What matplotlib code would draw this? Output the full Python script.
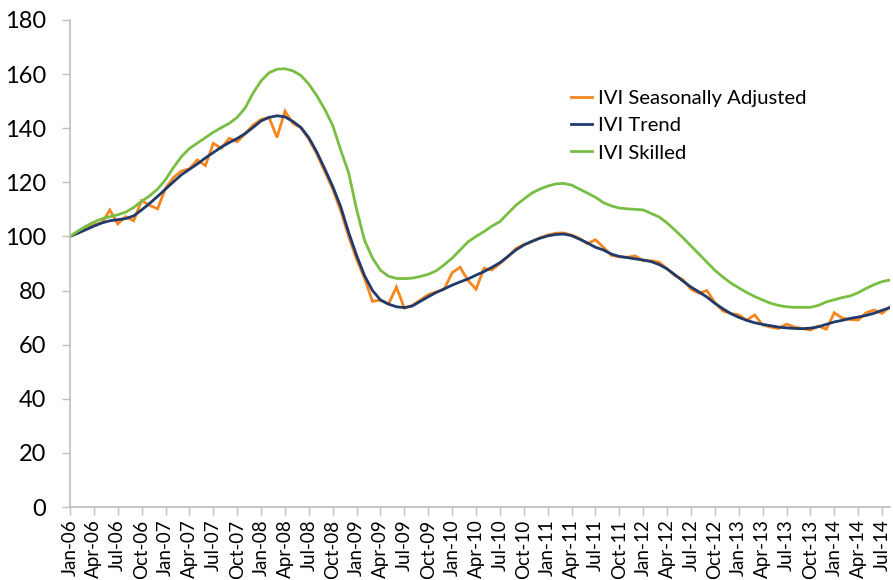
import matplotlib
matplotlib.use("Agg")
import matplotlib.pyplot as plt
import numpy as np

months = ["Jan", "Feb", "Mar", "Apr", "May", "Jun", "Jul", "Aug", "Sep", "Oct", "Nov", "Dec"]
dates = [f"{months[i % 12]}-{6 + i // 12:02d}" for i in range(104)]

seasonally_adjusted = [
    100.0, 101.5, 103.0, 104.3, 105.0, 109.8, 104.6, 107.3, 105.8, 113.3,
    111.5, 110.2, 117.8, 121.8, 124.2, 125.0, 128.3, 126.2, 134.4, 132.6,
    136.3, 135.0, 138.0, 141.2, 143.2, 144.0, 136.6, 146.3, 141.8, 140.2,
    136.0, 130.5, 124.0, 117.5, 109.5, 100.0, 91.5, 84.5, 76.0, 76.5,
    75.0, 81.3, 73.5, 74.5, 76.5, 78.5, 79.5, 80.5, 86.6, 88.6,
    83.7, 80.5, 88.2, 87.6, 90.0, 92.5, 95.5, 97.0, 98.0, 99.5,
    100.5, 101.2, 101.3, 100.5, 99.3, 97.3, 98.8, 96.0, 93.0, 92.5,
    92.3, 92.8, 91.0, 91.0, 90.5, 88.0, 85.5, 84.0, 80.5, 79.0,
    80.0, 75.5, 72.5, 71.5, 71.0, 69.0, 71.0, 67.3, 66.5, 66.0,
    67.6, 66.5, 66.0, 65.4, 66.9, 65.7, 71.8, 69.8, 69.3, 69.1,
    71.8, 72.8, 71.6, 74.0,
]

trend = [
    100.0, 101.2, 102.5, 103.8, 105.0, 105.8, 106.2, 106.6, 107.6, 109.8,
    112.2, 114.8, 117.5, 120.2, 122.8, 124.8, 126.8, 129.0, 131.0, 133.0,
    134.7, 136.2, 138.0, 140.3, 142.7, 144.0, 144.6, 144.2, 142.5, 140.3,
    136.5, 131.2, 125.0, 118.5, 111.0, 101.5, 93.0, 85.5, 80.0, 76.5,
    75.0, 74.0, 73.7, 74.3, 76.0, 77.7, 79.3, 80.6, 82.0, 83.2,
    84.3, 85.7, 87.0, 88.6, 90.3, 92.6, 95.0, 96.8, 98.2, 99.3,
    100.2, 100.7, 100.9, 100.3, 99.0, 97.6, 96.0, 95.0, 93.5, 92.6,
    92.2, 91.7, 91.3, 90.7, 89.6, 88.0, 85.8, 83.5, 81.3, 79.5,
    77.6, 75.3, 73.3, 71.5, 70.1, 69.0, 68.1, 67.5, 67.0, 66.5,
    66.2, 66.0, 65.9, 66.1, 66.6, 67.5, 68.4, 69.0, 69.7, 70.2,
    70.8, 71.6, 72.7, 73.7,
]

skilled = [
    100.0, 102.0, 103.8, 105.3, 106.5, 107.3, 108.0, 109.0, 110.7, 113.0,
    115.0, 117.5, 121.0, 125.5, 129.5, 132.5, 134.5, 136.5, 138.5, 140.2,
    141.8, 144.0, 147.5, 153.0, 157.5, 160.5, 161.8, 162.0, 161.2, 159.5,
    156.3, 152.0, 147.0, 141.0, 132.0, 123.5, 110.0, 98.5, 92.0, 87.5,
    85.3, 84.5, 84.4, 84.6, 85.2, 86.0, 87.3, 89.5, 92.0, 95.0,
    98.0, 100.0, 101.8, 103.8, 105.5, 108.5, 111.5, 113.8, 116.0, 117.5,
    118.6, 119.4, 119.6, 119.0, 117.5, 116.0, 114.5, 112.5, 111.3, 110.5,
    110.2, 110.0, 109.8, 108.5, 107.2, 105.0, 102.3, 99.5, 96.5, 93.5,
    90.5, 87.5, 85.0, 82.8, 81.0, 79.3, 77.8, 76.5, 75.3, 74.5,
    74.0, 73.8, 73.8, 73.8, 74.5, 75.8, 76.6, 77.4, 78.0, 79.2,
    80.8, 82.2, 83.3, 83.9,
]

series_labels = ["IVI Seasonally Adjusted", "IVI Trend", "IVI Skilled"]
colors = ["#F7861F", "#1F3A6B", "#78BE43"]

plt.rcParams['font.family'] = ['Lato', 'DejaVu Sans']

fig = plt.figure(figsize=(8.93, 5.80), dpi=100)
ax = fig.add_axes([70 / 893, 73 / 580, 820 / 893, 487 / 580])

x = np.arange(len(dates))
for vals, lab, col in zip([seasonally_adjusted, trend, skilled], series_labels, colors):
    ax.plot(x, vals, color=col, lw=2.0, label=lab, solid_joinstyle='miter')

ax.set_xlim(0, len(dates) - 1)
ax.set_ylim(0, 180)
ax.set_yticks(np.arange(0, 181, 20))
ax.set_xticks(x[::3])
ax.set_xticklabels([dates[i] for i in x[::3]], rotation=90, fontsize=13.5)
ax.tick_params(axis='y', labelsize=17, length=6, color='#BFBFBF', width=1, pad=11)
ax.tick_params(axis='x', length=6, color='#BFBFBF', width=1, pad=3)
for s in ['top', 'right']:
    ax.spines[s].set_visible(False)
for s in ['left', 'bottom']:
    ax.spines[s].set_color('#BFBFBF')
    ax.spines[s].set_linewidth(1.2)

leg = ax.legend(loc='upper left', bbox_to_anchor=(561 / 893, 1 - 80 / 580),
                bbox_transform=fig.transFigure, frameon=False, fontsize=14.6,
                handlelength=1.05, handletextpad=0.25, labelspacing=0.49, borderpad=0)

fig.savefig("out.png", dpi=100)
